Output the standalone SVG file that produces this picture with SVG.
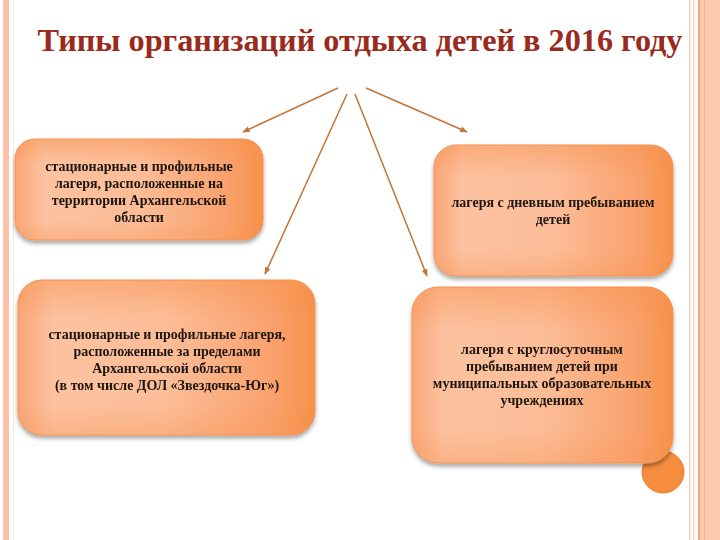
<svg xmlns="http://www.w3.org/2000/svg" width="720" height="540" viewBox="0 0 720 540">
<defs>
<linearGradient id="g" x1="0" y1="0" x2="1" y2="0">
<stop offset="0" stop-color="#F9A677"/>
<stop offset="0.12" stop-color="#FCC2A0"/>
<stop offset="0.5" stop-color="#FCBD98"/>
<stop offset="0.85" stop-color="#F9A26E"/>
<stop offset="1" stop-color="#F7914A"/>
</linearGradient>
<linearGradient id="gv" x1="0" y1="0" x2="0" y2="1">
<stop offset="0" stop-color="#F7914A" stop-opacity="0.45"/>
<stop offset="0.25" stop-color="#F7914A" stop-opacity="0"/>
<stop offset="0.8" stop-color="#F7914A" stop-opacity="0"/>
<stop offset="1" stop-color="#F7914A" stop-opacity="0.3"/>
</linearGradient>
<filter id="sh" x="-10%" y="-10%" width="120%" height="130%">
<feGaussianBlur in="SourceAlpha" stdDeviation="2"/>
<feOffset dx="0" dy="3" result="b"/>
<feComponentTransfer><feFuncA type="linear" slope="0.35"/></feComponentTransfer>
<feMerge><feMergeNode/><feMergeNode in="SourceGraphic"/></feMerge>
</filter>
<marker id="ah" viewBox="0 0 10 10" refX="9" refY="5" markerWidth="5" markerHeight="5" orient="auto">
<path d="M0,1 L10,5 L0,9 z" fill="#C47436"/>
</marker>
</defs>
<style>
.box{fill:url(#g);stroke:#F29255;stroke-width:1;}
.ov{fill:url(#gv);}
.t{font-family:"Liberation Serif",serif;font-weight:bold;font-size:14px;fill:#1E1410;text-anchor:middle;}
.title{font-family:"Liberation Serif",serif;font-weight:bold;font-size:31px;fill:#9A2A1C;text-anchor:middle;}
.c{stroke:#C47436;stroke-width:1.5;fill:none;marker-end:url(#ah);}
</style>
<rect width="720" height="540" fill="#FFFFFF"/>
<g id="borders">
<rect x="3" y="0" width="6" height="540" fill="#FBC2A8"/>
<rect x="13" y="0" width="1" height="540" fill="#FDE6DA"/>
<rect x="689" y="0" width="1.5" height="540" fill="#FAD3BF"/>
<rect x="693" y="0" width="1.5" height="540" fill="#FAD3BF"/>
<rect x="698" y="0" width="2" height="540" fill="#F7A27E"/>
<rect x="700" y="0" width="20" height="540" fill="#FDC9B0"/>
<rect x="704" y="0" width="1" height="540" fill="#F9B597"/>
</g>
<text class="title" x="360" y="51" textLength="645" lengthAdjust="spacingAndGlyphs">Типы организаций отдыха детей в 2016 году</text>
<g id="connectors">
<line class="c" x1="338" y1="88" x2="243" y2="132"/>
<line class="c" x1="347" y1="94" x2="265" y2="274"/>
<line class="c" x1="355" y1="94" x2="427" y2="276"/>
<line class="c" x1="366" y1="88" x2="467" y2="132"/>
</g>
<g id="node1" filter="url(#sh)">
<rect class="box" x="15" y="139" width="248" height="101" rx="20"/>
<rect class="ov" x="15" y="139" width="248" height="101" rx="20"/>
<text class="t" x="139" y="171">стационарные и профильные</text>
<text class="t" x="139" y="188">лагеря, расположенные на</text>
<text class="t" x="139" y="205">территории Архангельской</text>
<text class="t" x="139" y="222">области</text>
</g>
<g id="node2" filter="url(#sh)">
<rect class="box" x="434" y="145" width="239" height="131" rx="22"/>
<rect class="ov" x="434" y="145" width="239" height="131" rx="22"/>
<text class="t" x="553" y="207">лагеря с дневным пребыванием</text>
<text class="t" x="553" y="224">детей</text>
</g>
<g id="node3" filter="url(#sh)">
<rect class="box" x="18" y="280" width="297" height="155" rx="24"/>
<rect class="ov" x="18" y="280" width="297" height="155" rx="24"/>
<text class="t" x="167" y="339">стационарные и профильные лагеря,</text>
<text class="t" x="167" y="356">расположенные за пределами</text>
<text class="t" x="167" y="373">Архангельской области</text>
<text class="t" x="167" y="390">(в том числе ДОЛ «Звездочка-Юг»)</text>
</g>
<g id="circle">
<circle cx="663" cy="472" r="21" fill="#F68C3E" stroke="#F27C2A" stroke-width="1"/>
</g>
<g id="node4" filter="url(#sh)">
<rect class="box" x="412" y="287" width="261" height="176" rx="26"/>
<rect class="ov" x="412" y="287" width="261" height="176" rx="26"/>
<text class="t" x="542" y="354">лагеря с круглосуточным</text>
<text class="t" x="542" y="371">пребыванием детей при</text>
<text class="t" x="542" y="388">муниципальных образовательных</text>
<text class="t" x="542" y="405">учреждениях</text>
</g>
</svg>
